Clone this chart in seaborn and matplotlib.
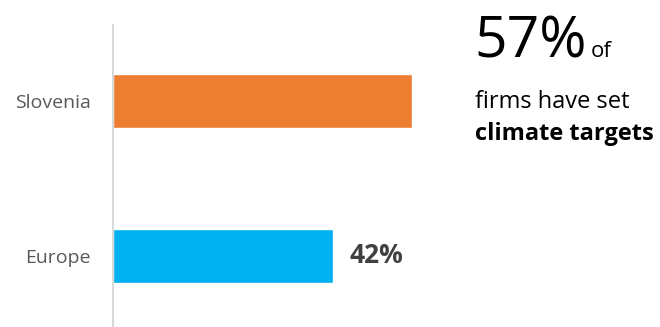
import matplotlib
matplotlib.use("Agg")
import matplotlib.pyplot as plt
import seaborn as sns
import pandas as pd

categories = ["Slovenia", "Europe"]
values = [57, 42]
colors = ["#ED7D31", "#00B0F0"]
value_label_text = "42%"
headline = "57%"

sns.set_theme(style="white")
plt.rcParams["font.family"] = ["Open Sans", "DejaVu Sans"]

df = pd.DataFrame({"region": categories, "share": values})

fig = plt.figure(figsize=(6.6, 3.27), dpi=100)
ax = fig.add_axes([113/660, 0.0, 524/660, 1 - 25/327])
sns.barplot(data=df, y="region", x="share", hue="region", palette=colors,
            orient="h", width=0.35, legend=False, ax=ax, saturation=1)
ax.set_xlim(0, 100)
ax.set_ylim(1.458, -0.490)
ax.set_xlabel("")
ax.set_ylabel("")
ax.set_xticks([])
for s in ["top", "right", "bottom"]:
    ax.spines[s].set_visible(False)
ax.spines["left"].set_color("#D9D9D9")
ax.spines["left"].set_linewidth(1.5)
ax.tick_params(axis="y", length=0, pad=16, labelsize=14, labelcolor="#595959")

# value label for Europe
ax.text(values[1] + 3.2, 1, value_label_text, va="center", ha="left",
        fontsize=19, fontweight="bold", color="#404040")

# right-hand annotation
fig.text(474/660, 1 - 57/327, headline, fontsize=41, color="black", va="baseline", ha="left")
fig.text(591/660, 1 - 57/327, "of", fontsize=16, color="black", va="baseline", ha="left")
fig.text(475/660, 1 - 108/327, "firms have set", fontsize=17, color="black", va="baseline", ha="left")
fig.text(475/660, 1 - 140/327, "climate targets", fontsize=17, fontweight="bold", color="black", va="baseline", ha="left")

fig.savefig("out.png", dpi=100)
